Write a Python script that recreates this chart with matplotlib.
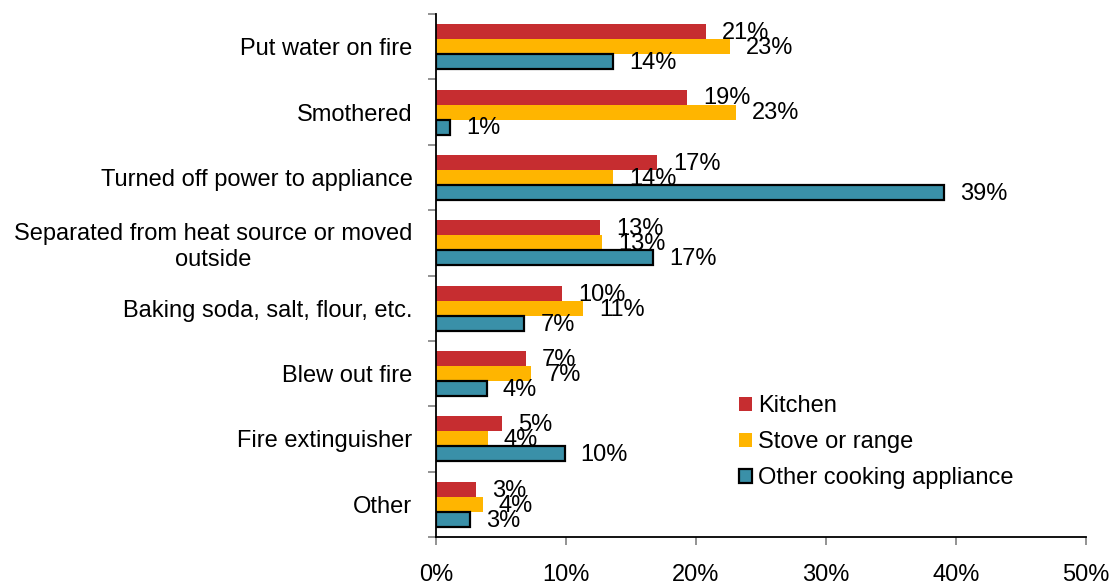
import matplotlib
matplotlib.use("Agg")
import matplotlib.pyplot as plt
import numpy as np

plt.rcParams['font.family'] = ['Liberation Sans', 'DejaVu Sans']

categories = [
    "Put water on fire",
    "Smothered",
    "Turned off power to appliance",
    "Separated from heat source or moved\noutside",
    "Baking soda, salt, flour, etc.",
    "Blew out fire",
    "Fire extinguisher",
    "Other",
]
kitchen = [20.8, 19.3, 17.0, 12.6, 9.7, 6.9, 5.1, 3.1]
stove = [22.6, 23.1, 13.6, 12.8, 11.3, 7.3, 4.0, 3.6]
other = [13.6, 1.1, 39.1, 16.7, 6.8, 3.9, 9.9, 2.6]
series_names = ["Kitchen", "Stove or range", "Other cooking appliance"]
colors = ["#C62D30", "#FFB500", "#3A90A8"]
xticks = [0, 10, 20, 30, 40, 50]
xticklabels = ["0%", "10%", "20%", "30%", "40%", "50%"]

fig = plt.figure(figsize=(11.09, 5.85), dpi=100)
ax = fig.add_axes([436 / 1109, 48 / 585, 650 / 1109, 523 / 585])

n = len(categories)
y = np.arange(n)
h = 0.23
series = [kitchen, stove, other]
offsets = [-h, 0, h]
for i, (vals, col, name) in enumerate(zip(series, colors, series_names)):
    if i == 2:
        ax.barh(y + offsets[i], vals, height=h, color=col, edgecolor="black",
                linewidth=1.6, label=name)
    else:
        ax.barh(y + offsets[i], vals, height=h, color=col, label=name)
    for yy, v in zip(y + offsets[i], vals):
        ax.annotate(f"{v:.0f}%", xy=(v, yy), xytext=(11.5, -1), textcoords="offset points",
                    ha="left", va="center", fontsize=17, color="black")

ax.set_ylim(n - 0.5, -0.5)
ax.set_xlim(0, 50)
ax.set_xticks(xticks)
ax.set_xticklabels(xticklabels, fontsize=17)
ax.set_yticks(y)
ax.set_yticklabels(categories, fontsize=17, multialignment="center")
ax.set_yticks(np.arange(-0.5, n, 1.0), minor=True)
ax.tick_params(axis="y", which="major", length=0, pad=17)
ax.tick_params(axis="y", which="minor", length=6, color="#808080", width=1.2, direction="out")
ax.tick_params(axis="x", which="major", length=6, color="#808080", width=1.2, direction="out", pad=13.5)

for s in ["top", "right"]:
    ax.spines[s].set_visible(False)
for s in ["left", "bottom"]:
    ax.spines[s].set_color("black")
    ax.spines[s].set_linewidth(1.3)

fig.legend(loc="upper left", bbox_to_anchor=(739 / 1109, 1 - 395 / 585),
           frameon=False, fontsize=17, handlelength=0.55, handleheight=0.55,
           handletextpad=0.25, labelspacing=0.6, borderpad=0, borderaxespad=0)

fig.savefig("out.png", dpi=100)
